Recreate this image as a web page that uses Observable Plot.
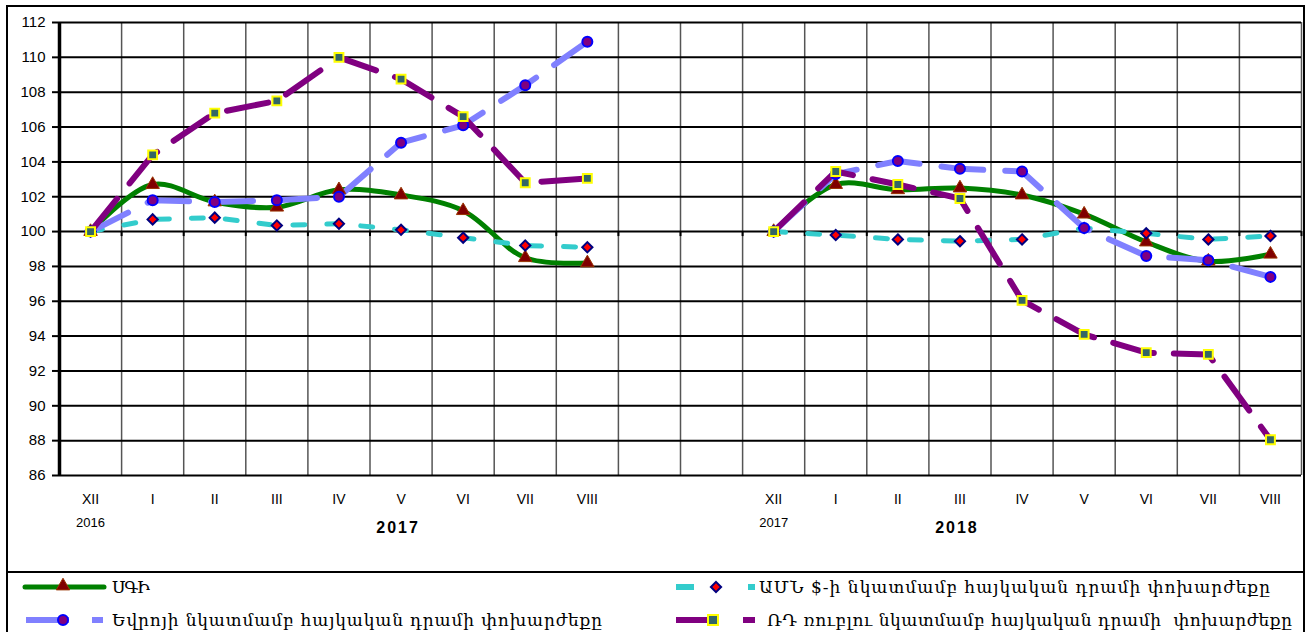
<!DOCTYPE html>
<html>
<head>
<meta charset="utf-8">
<script src="https://cdn.jsdelivr.net/npm/d3@7"></script>
<script src="https://cdn.jsdelivr.net/npm/@observablehq/plot@0.6"></script>
<style>
  body { margin: 0; background: #fff; }
  #wrap { position: relative; width: 1308px; height: 632px; overflow: hidden; font-family: "Liberation Sans", Arial, sans-serif; }
  #frame { position: absolute; left: 6px; top: 5px; width: 1299px; height: 700px; border: 2px solid #000; box-sizing: border-box; }
  #chart { position: absolute; left: 0; top: 0; }
  #legend { position: absolute; left: 0; top: 571px; }
</style>
</head>
<body>
<div id="wrap">
  <div id="frame"></div>
  <div id="chart"></div>
  <svg id="legend" width="1308" height="61"></svg>
</div>
<script>
// ---------- data ----------
const months = ["XII", "I", "II", "III", "IV", "V", "VI", "VII", "VIII"];
const blockYears = ["2017", "2018"];      // bold group labels
const prevYears = ["2016", "2017"];       // small label under the first (XII) category
const groupAt = ["V", "III"];             // category under which the bold label sits
const gapSlots = 2;                       // empty categories between the two blocks
const yTicks = [86, 88, 90, 92, 94, 96, 98, 100, 102, 104, 106, 108, 110, 112];

const cpi2017 = [100, 102.7, 101.7, 101.4, 102.4, 102.1, 101.2, 98.5, 98.2];
const cpi2018 = [100, 102.7, 102.4, 102.5, 102.1, 101.0, 99.4, 98.3, 98.7];
const usd2017 = [100, 100.7, 100.8, 100.35, 100.45, 100.1, 99.65, 99.2, 99.1];
const usd2018 = [100, 99.8, 99.55, 99.45, 99.55, 100.2, 99.9, 99.55, 99.75];
const eur2017 = [100, 101.8, 101.7, 101.8, 102.0, 105.1, 106.1, 108.4, 110.9];
const eur2018 = [100, 103.3, 104.05, 103.6, 103.45, 100.2, 98.6, 98.35, 97.4];
const rub2017 = [100, 104.4, 106.8, 107.5, 110.0, 108.75, 106.6, 102.8, 103.05];
const rub2018 = [100, 103.45, 102.7, 101.9, 96.05, 94.1, 93.05, 92.95, 88.05];

const seriesNames = [
  "ՍԳԻ",
  "ԱՄՆ $-ի նկատմամբ հայկական դրամի փոխարժեքը",
  "Եվրոյի նկատմամբ հայկական դրամի փոխարժեքը",
  "ՌԴ ռուբլու նկատմամբ հայկական դրամի  փոխարժեքը"
];
const seriesValues = [[cpi2017, cpi2018], [usd2017, usd2018], [eur2017, eur2018], [rub2017, rub2018]];

// ---------- build table ----------
const blockLen = months.length + gapSlots;
const nSlots = blockYears.length * months.length + gapSlots;
const slotPos = (b, i) => b * blockLen + i + 0.5;

const rows = [];
seriesValues.forEach((pair, s) => pair.forEach((vals, b) => vals.forEach((v, i) => {
  rows.push({series: s, year: blockYears[b], pos: slotPos(b, i), value: v});
})));
const ser = s => rows.filter(d => d.series === s);

const catLabels = [];
blockYears.forEach((y, b) => months.forEach((m, i) => catLabels.push({pos: slotPos(b, i), label: m})));
const subLabels = prevYears.map((y, b) => ({pos: slotPos(b, 0), label: y}));
const groupLabels = blockYears.map((y, b) => ({pos: slotPos(b, months.indexOf(groupAt[b])), label: y}));
const bounds = d3.range(0, nSlots + 1);

const C = {
  cpi: "#008000", cpiFill: "#800000", cpiStroke: "#993300",
  usd: "#33CCCC", usdFill: "#FF0000", usdStroke: "#000080",
  eur: "#8080FF", eurFill: "#800080", eurStroke: "#0000FF",
  rub: "#800080", rubFill: "#336666", rubStroke: "#FFFF00"
};

const chart = Plot.plot({
  width: 1308,
  height: 560,
  marginLeft: 59,
  marginRight: 7,
  marginTop: 22,
  marginBottom: 85,
  x: {type: "linear", domain: [0, nSlots], axis: null},
  y: {domain: [86, 112]},
  style: {fontFamily: "'Liberation Sans', Arial, sans-serif", fontSize: "15px", background: "transparent", overflow: "visible"},
  marks: [
    Plot.ruleX(bounds, {stroke: "#555", strokeWidth: 1.5}),
    Plot.ruleY(yTicks, {stroke: "#000", strokeWidth: 2}),
    Plot.ruleX(bounds, {y1: () => 100, y2: () => 100, insetBottom: -5, stroke: "#000", strokeWidth: 2}),
    Plot.ruleX([0], {y1: () => yTicks[0], y2: () => yTicks[yTicks.length - 1], stroke: "#000", strokeWidth: 3.5}),
    Plot.axisY({ticks: yTicks, tickSize: 7, tickPadding: 7, tickFormat: d => d, label: null, fontSize: 15, strokeWidth: 2, color: "#000"}),
    // lines
    Plot.line(ser(0), {x: "pos", y: "value", z: "year", stroke: C.cpi, strokeWidth: 5, curve: "catmull-rom"}),
    Plot.line(ser(1), {x: "pos", y: "value", z: "year", stroke: C.usd, strokeWidth: 5, strokeDasharray: "12,22"}),
    Plot.line(ser(2), {x: "pos", y: "value", z: "year", stroke: C.eur, strokeWidth: 6, strokeDasharray: "42,22"}),
    Plot.line(ser(3), {x: "pos", y: "value", z: "year", stroke: C.rub, strokeWidth: 6, strokeDasharray: "42,20"}),
    // markers
    Plot.dot(ser(0), {x: "pos", y: "value", symbol: "triangle", r: 5, fill: C.cpiFill, stroke: C.cpiStroke, strokeWidth: 1}),
    Plot.dot(ser(1), {x: "pos", y: "value", symbol: "diamond2", r: 4.6, fill: C.usdFill, stroke: C.usdStroke, strokeWidth: 2}),
    Plot.dot(ser(2), {x: "pos", y: "value", symbol: "circle", r: 5, fill: C.eurFill, stroke: C.eurStroke, strokeWidth: 2}),
    Plot.dot(ser(3), {x: "pos", y: "value", symbol: "square", r: 5, fill: C.rubFill, stroke: C.rubStroke, strokeWidth: 2}),
    // category labels
    Plot.text(catLabels, {x: "pos", text: "label", frameAnchor: "bottom", dy: 28, fontSize: 14, fill: "#000"}),
    Plot.text(subLabels, {x: "pos", text: "label", frameAnchor: "bottom", dy: 51, fontSize: 13, fill: "#000"}),
    Plot.text(groupLabels, {x: "pos", text: "label", frameAnchor: "bottom", dy: 57, dx: -3, fontSize: 16, fontWeight: "bold", fill: "#000"})
  ]
});
d3.select(chart).selectAll('g[font-weight="bold"]').attr("letter-spacing", "2px");
document.getElementById("chart").appendChild(chart);

// ---------- legend ----------
const lg = d3.select("#legend");
lg.append("line").attr("x1", 7).attr("x2", 1303).attr("y1", 1).attr("y2", 1).attr("stroke", "#000").attr("stroke-width", 2);
const r1 = 16, r2 = 49;
// row 1 left: CPI
lg.append("line").attr("x1", 25).attr("x2", 104).attr("y1", r1).attr("y2", r1).attr("stroke", C.cpi).attr("stroke-width", 5).attr("stroke-linecap", "round");
lg.append("path").attr("d", d3.symbol(d3.symbolTriangle, Math.PI * 25)()).attr("transform", `translate(63,${r1 - 1})`).attr("fill", C.cpiFill).attr("stroke", C.cpiStroke);
// row 2 left: EUR
lg.append("line").attr("x1", 26).attr("x2", 69).attr("y1", r2).attr("y2", r2).attr("stroke", C.eur).attr("stroke-width", 6);
lg.append("circle").attr("cx", 63).attr("cy", r2).attr("r", 5).attr("fill", C.eurFill).attr("stroke", C.eurStroke).attr("stroke-width", 2);
lg.append("rect").attr("x", 92).attr("y", r2 - 3).attr("width", 11).attr("height", 6).attr("fill", C.eur);
// row 1 right: USD
lg.append("rect").attr("x", 676).attr("y", r1 - 3).attr("width", 18).attr("height", 6).attr("fill", C.usd);
lg.append("path").attr("d", d3.symbol(d3.symbolDiamond2, Math.PI * 4.6 * 4.6)()).attr("transform", `translate(716,${r1})`).attr("fill", C.usdFill).attr("stroke", C.usdStroke).attr("stroke-width", 2);
lg.append("rect").attr("x", 748).attr("y", r1 - 3).attr("width", 7).attr("height", 6).attr("fill", C.usd);
// row 2 right: RUB
lg.append("line").attr("x1", 676).attr("x2", 708).attr("y1", r2).attr("y2", r2).attr("stroke", C.rub).attr("stroke-width", 6);
lg.append("rect").attr("x", 708).attr("y", r2 - 5).attr("width", 10).attr("height", 10).attr("fill", C.rubFill).attr("stroke", C.rubStroke).attr("stroke-width", 2);
lg.append("rect").attr("x", 743).attr("y", r2 - 3).attr("width", 12).attr("height", 6).attr("fill", C.rub);

const legendText = [
  {name: seriesNames[0], x: 112, y: r1, w: 38},
  {name: seriesNames[2], x: 112, y: r2, w: 490},
  {name: seriesNames[1], x: 759, y: r1, w: 511},
  {name: seriesNames[3], x: 767, y: r2, w: 525}
];
legendText.forEach(t => {
  lg.append("text").attr("x", t.x).attr("y", t.y).attr("dy", "0.36em")
    .attr("font-family", "'DejaVu Serif', 'DejaVu Sans', serif").attr("font-size", 17)
    .attr("textLength", t.w).attr("lengthAdjust", "spacing")
    .style("white-space", "pre")
    .text(t.name);
});
</script>
</body>
</html>
